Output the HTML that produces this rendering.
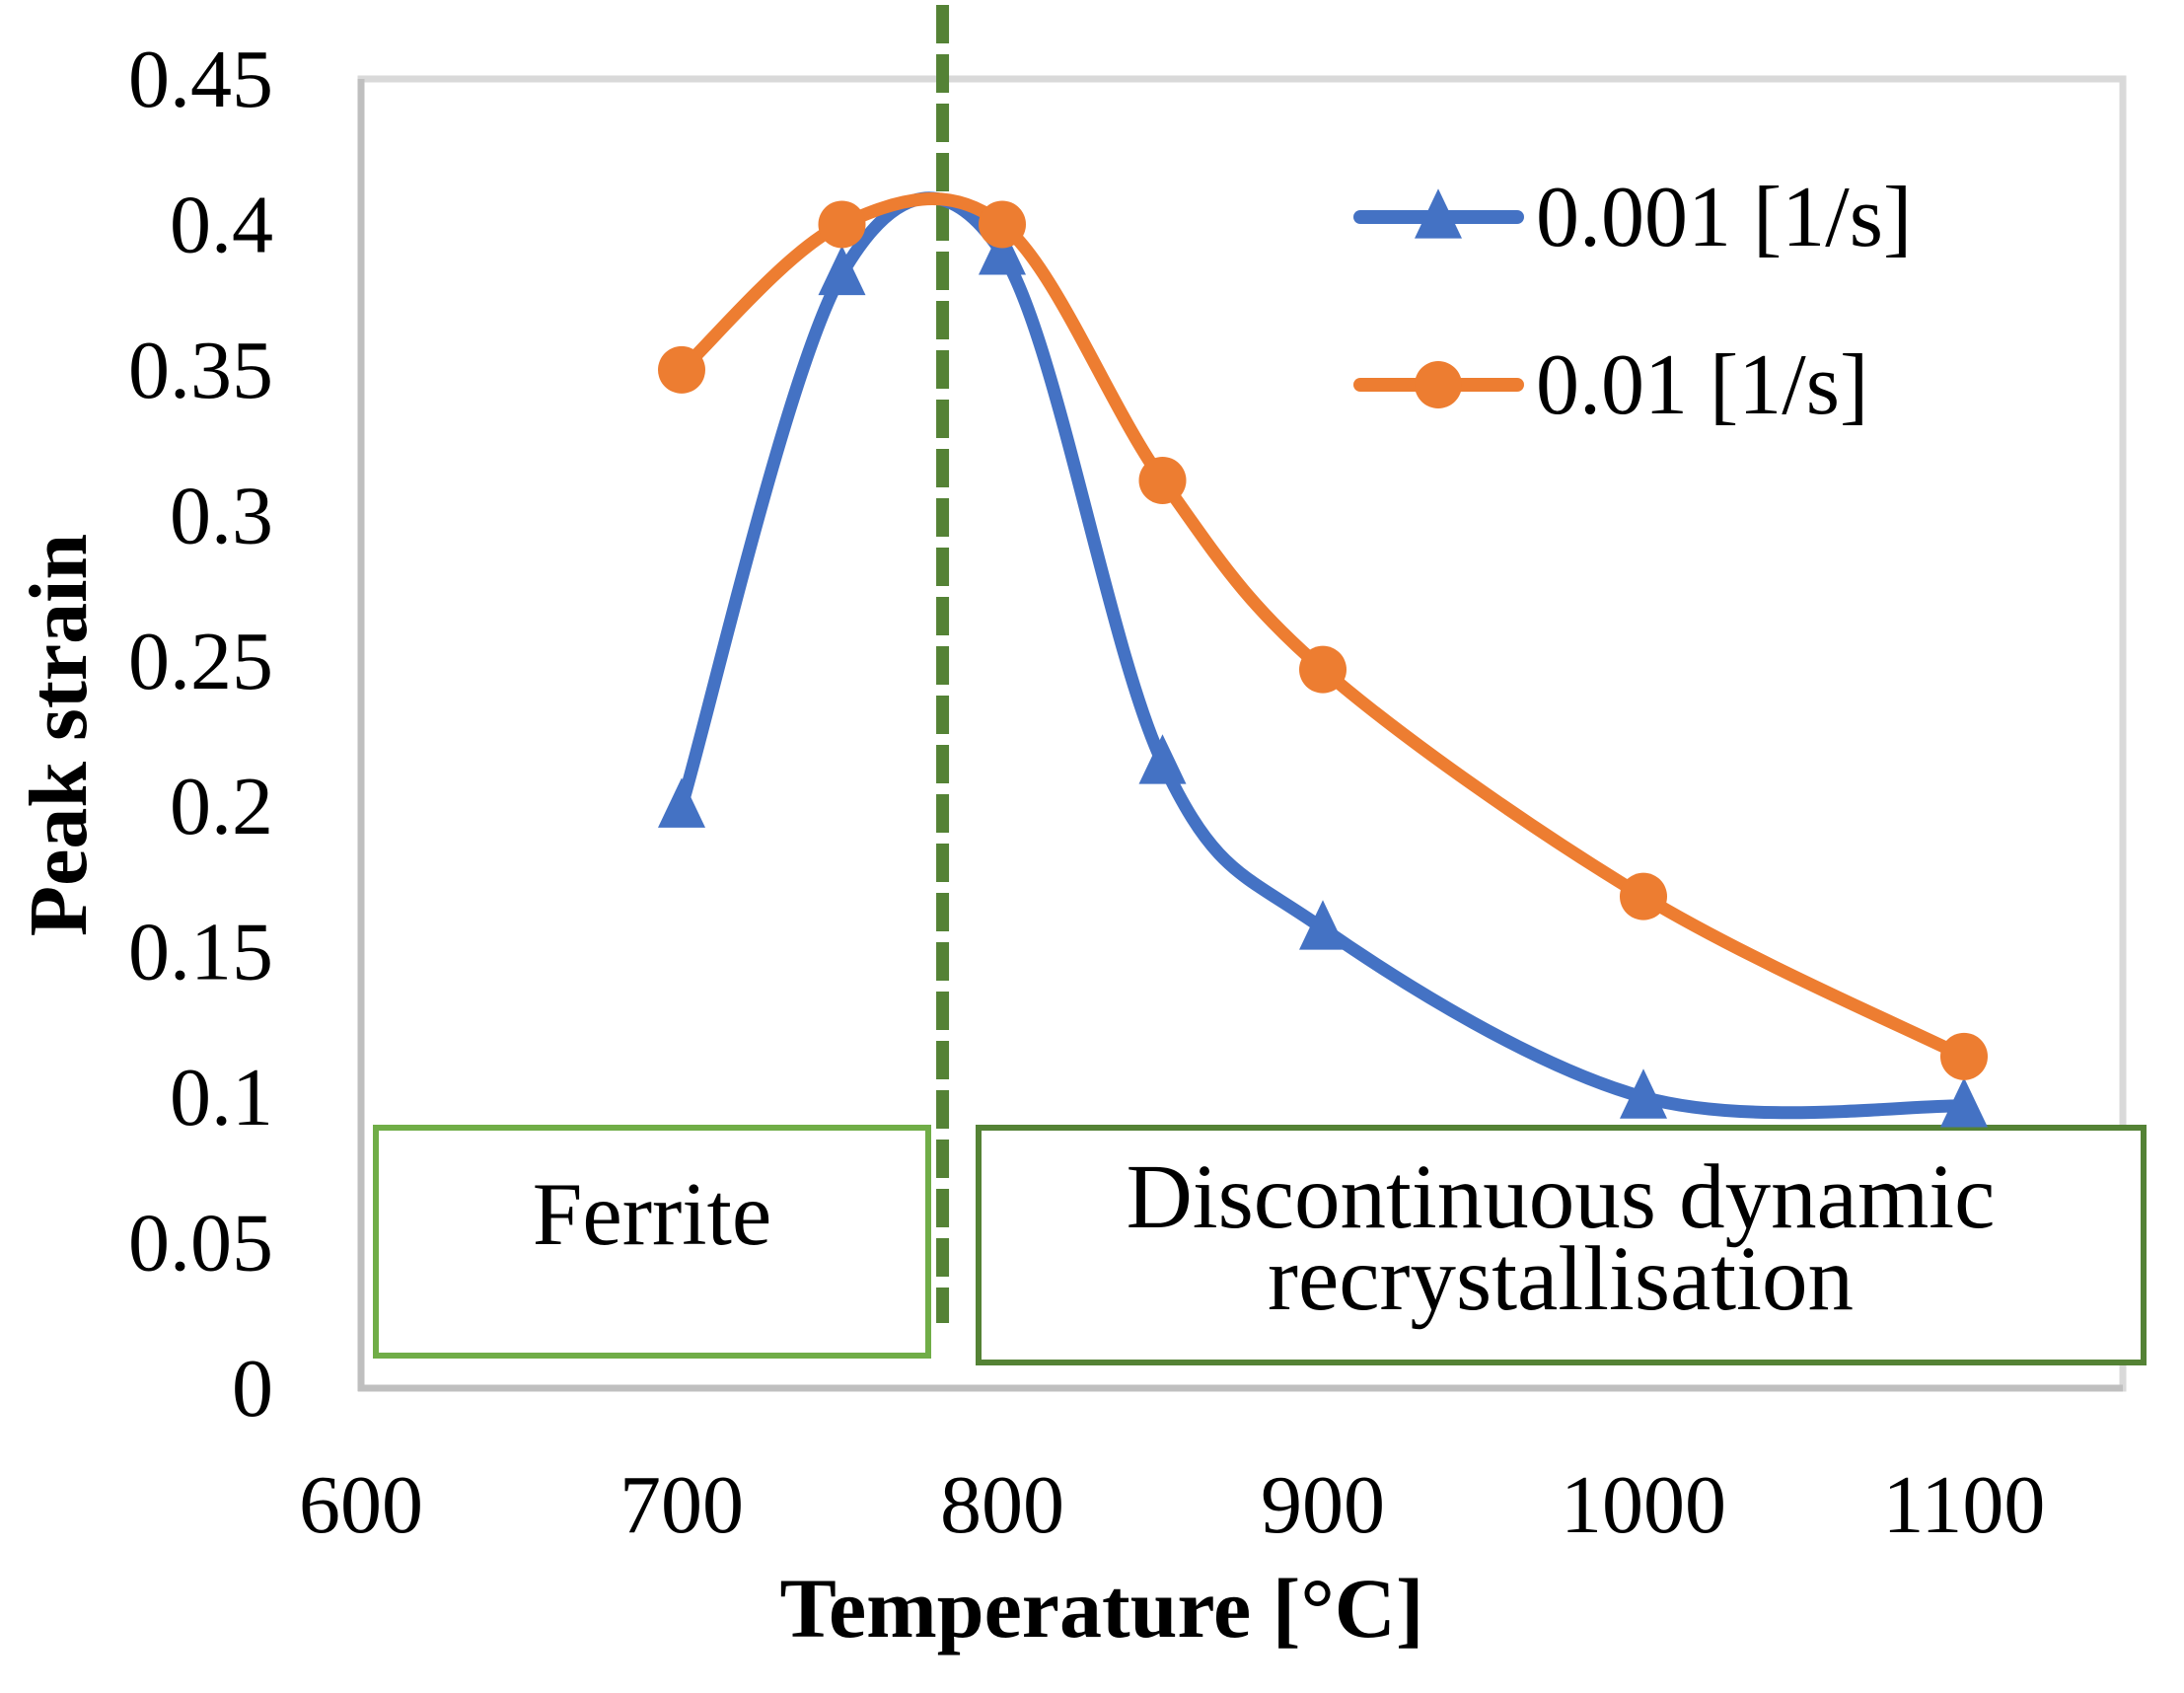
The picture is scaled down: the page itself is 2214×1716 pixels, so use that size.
<!DOCTYPE html>
<html><head><meta charset="utf-8"><style>
html,body{margin:0;padding:0;background:#fff;}
svg text{font-family:"Liberation Serif",serif;fill:#000;}
</style></head><body>
<svg id="chart" width="2214" height="1711" viewBox="0 0 2214 1711" xmlns="http://www.w3.org/2000/svg">
<g id="axes"></g>
<g id="boxes"></g>
<g id="series"></g>
<g id="legend"></g>
</svg>
<script>
const temps = [700, 750, 800, 850, 900, 1000, 1100];
const strainSlow = [0.2, 0.383, 0.39, 0.215, 0.158, 0.1, 0.097];
const strainFast = [0.35, 0.4, 0.4, 0.312, 0.247, 0.169, 0.114];
const xTicks = [600, 700, 800, 900, 1000, 1100];
const yTicks = [0, 0.05, 0.1, 0.15, 0.2, 0.25, 0.3, 0.35, 0.4, 0.45];
const yTickLabels = ["0", "0.05", "0.1", "0.15", "0.2", "0.25", "0.3", "0.35", "0.4", "0.45"];
const transitionTemp = 781.4;

const NS = "http://www.w3.org/2000/svg";
const L = 366, R = 2152, T = 80, B = 1407;
const xS = t => L + (t - 600) / 100 * 325;
const yS = v => B - v / 0.45 * (B - T);
function mk(tag, attrs, parent) {
  const e = document.createElementNS(NS, tag);
  for (const k in attrs) e.setAttribute(k, attrs[k]);
  parent.appendChild(e); return e;
}
const axes = document.getElementById('axes');
const plot = mk('rect', {x: L, y: T, width: R - L, height: B - T, fill: 'none', stroke: '#d9d9d9', 'stroke-width': 7}, axes);


const yAx = mk('line', {x1: L, y1: T, x2: L, y2: B + 3, stroke: '#bfbfbf', 'stroke-width': 7}, axes);


const xAx = mk('line', {x1: L - 3, y1: B, x2: R, y2: B, stroke: '#bfbfbf', 'stroke-width': 7}, axes);



yTicks.forEach((v, i) => {
  const t = mk('text', {x: 277, y: yS(v) + 28, 'font-size': 84, 'text-anchor': 'end'}, axes);
  t.textContent = yTickLabels[i];
  
  
});
xTicks.forEach(v => {
  const t = mk('text', {x: xS(v), y: 1553, 'font-size': 84, 'text-anchor': 'middle'}, axes);
  t.textContent = String(v);
  
  
});
const xt = mk('text', {x: 1117, y: 1659, 'font-size': 86, 'font-weight': 'bold', 'text-anchor': 'middle'}, axes);
xt.textContent = 'Temperature [°C]';


const yt = mk('text', {x: 0, y: 0, 'font-size': 84, 'font-weight': 'bold', 'text-anchor': 'middle', transform: 'translate(87,745) rotate(-90)'}, axes);
yt.textContent = 'Peak strain';



// region boxes
const boxes = document.getElementById('boxes');
const fb = mk('rect', {x: 381, y: 1143, width: 560, height: 231, fill: '#fff', stroke: '#70ad47', 'stroke-width': 6}, boxes);


const ft = mk('text', {x: 661, y: 1261, 'font-size': 91, 'text-anchor': 'middle'}, boxes);
ft.textContent = 'Ferrite';


const db = mk('rect', {x: 992, y: 1143, width: 1181, height: 238, fill: '#fff', stroke: '#548235', 'stroke-width': 6}, boxes);


const dt1 = mk('text', {x: 1582, y: 1244, 'font-size': 93, 'text-anchor': 'middle'}, boxes);
dt1.textContent = 'Discontinuous dynamic';


const dt2 = mk('text', {x: 1582, y: 1327, 'font-size': 93, 'text-anchor': 'middle'}, boxes);
dt2.textContent = 'recrystallisation';



// transition line
const tl = mk('line', {x1: xS(transitionTemp), y1: 5, x2: xS(transitionTemp), y2: 1341, stroke: '#548235', 'stroke-width': 13, 'stroke-dasharray': '39 11'}, boxes);



function smoothPath(xs, ys) {
  const p = xs.map((x, i) => [xS(x), yS(ys[i])]);
  let d = `M${p[0][0]},${p[0][1]}`;
  const tt = 0.5 / 3 * 2;
  for (let i = 0; i < p.length - 1; i++) {
    const p0 = p[i - 1] || p[i], p1 = p[i], p2 = p[i + 1], p3 = p[i + 2] || p[i + 1];
    const c1 = [p1[0] + (p2[0] - p0[0]) * tt / 2, p1[1] + (p2[1] - p0[1]) * tt / 2];
    const c2 = [p2[0] - (p3[0] - p1[0]) * tt / 2, p2[1] - (p3[1] - p1[1]) * tt / 2];
    d += ` C${c1[0]},${c1[1]} ${c2[0]},${c2[1]} ${p2[0]},${p2[1]}`;
  }
  return d;
}
function tri(cx, cy, s) {
  return `${cx},${cy - s * 0.6} ${cx - s / 2},${cy + s * 0.45} ${cx + s / 2},${cy + s * 0.45}`;
}
const series = document.getElementById('series');
const ps = mk('path', {d: smoothPath(temps, strainSlow), fill: 'none', stroke: '#4472c4', 'stroke-width': 13, 'stroke-linejoin': 'round'}, series);


const pf = mk('path', {d: smoothPath(temps, strainFast), fill: 'none', stroke: '#ed7d31', 'stroke-width': 13, 'stroke-linejoin': 'round'}, series);


temps.forEach((t, i) => {
  const m = mk('polygon', {points: tri(xS(t), yS(strainSlow[i]), 48), fill: '#4472c4'}, series);
  
  
});
temps.forEach((t, i) => {
  const m = mk('circle', {cx: xS(t), cy: yS(strainFast[i]), r: 24, fill: '#ed7d31'}, series);
  
  
});

// legend
const lg = document.getElementById('legend');
const l1 = mk('line', {x1: 1379, y1: 220, x2: 1538, y2: 220, stroke: '#4472c4', 'stroke-width': 14, 'stroke-linecap': 'round'}, lg);


const lm1 = mk('polygon', {points: tri(1458, 220, 48), fill: '#4472c4'}, lg);


const lt1 = mk('text', {x: 1557, y: 249, 'font-size': 88}, lg);
lt1.textContent = '0.001 [1/s]';


const l2 = mk('line', {x1: 1379, y1: 390, x2: 1538, y2: 390, stroke: '#ed7d31', 'stroke-width': 14, 'stroke-linecap': 'round'}, lg);


const lm2 = mk('circle', {cx: 1458, cy: 390, r: 24, fill: '#ed7d31'}, lg);


const lt2 = mk('text', {x: 1557, y: 419, 'font-size': 88}, lg);
lt2.textContent = '0.01 [1/s]';


</script>
</body></html>
